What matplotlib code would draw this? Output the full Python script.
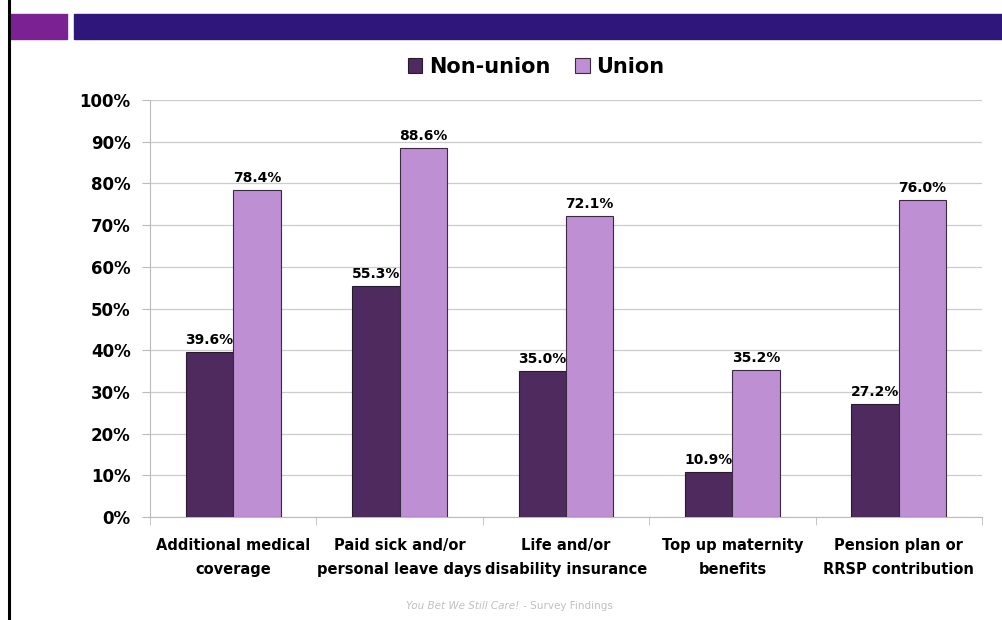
import numpy as np
import matplotlib
matplotlib.use("Agg")
import matplotlib.pyplot as plt
from matplotlib.patches import Rectangle
from matplotlib.lines import Line2D

categories = ["Additional medical\ncoverage", "Paid sick and/or\npersonal leave days",
              "Life and/or\ndisability insurance", "Top up maternity\nbenefits",
              "Pension plan or\nRRSP contribution"]
non_union = [39.6, 55.3, 35.0, 10.9, 27.2]
union = [78.4, 88.6, 72.1, 35.2, 76.0]

C_NON = "#4E2A5E"
C_UNI = "#BF8FD3"

plt.rcParams['font.family'] = ['DejaVu Sans']

fig = plt.figure(figsize=(10.03, 6.2), dpi=100)

# slide decoration
fig.add_artist(Line2D([9 / 1003, 9 / 1003], [0, 1], color="black", lw=2.2,
                      transform=fig.transFigure))
fig.add_artist(Rectangle((10 / 1003, 1 - 39 / 620), 57 / 1003, 25 / 620,
                         color="#7B2194", transform=fig.transFigure))
fig.add_artist(Rectangle((74 / 1003, 1 - 39 / 620), 929 / 1003, 25 / 620,
                         color="#2F167B", transform=fig.transFigure))

ax = fig.add_axes([150 / 1003, 1 - 517 / 620, 832 / 1003, 417 / 620])

x = np.arange(len(categories))
w = 0.285
b1 = ax.bar(x - w / 2, non_union, w, color=C_NON, edgecolor="#2a1a30", lw=0.8,
            label="Non-union", zorder=3)
b2 = ax.bar(x + w / 2, union, w, color=C_UNI, edgecolor="#3a2a40", lw=0.8,
            label="Union", zorder=3)

for bars, vals in ((b1, non_union), (b2, union)):
    for r, v in zip(bars, vals):
        ax.text(r.get_x() + r.get_width() / 2, v + 1.2, f"{v:.1f}%", ha="center",
                va="bottom", fontsize=10, fontweight="bold")

ax.set_xlim(-0.5, len(categories) - 0.5)
ax.set_ylim(0, 100)
ax.set_yticks(np.arange(0, 101, 10))
ax.set_yticklabels([f"{t}%" for t in range(0, 101, 10)], fontsize=12, fontweight="bold")
ax.yaxis.grid(True, color="#cccccc", lw=0.9, zorder=0)
ax.tick_params(axis="y", length=6, color="#bbbbbb", pad=8)

ax.set_xticks(x)
ax.set_xticklabels(categories, fontsize=10.5, fontweight="bold", linespacing=1.8)
ax.set_xticks(np.arange(-0.5, len(categories), 1), minor=True)
ax.tick_params(axis="x", which="major", length=0, pad=15)
ax.tick_params(axis="x", which="minor", length=6, color="#bbbbbb")

for s in ("top", "right"):
    ax.spines[s].set_visible(False)
ax.spines["left"].set_color("#bbbbbb")
ax.spines["bottom"].set_color("#bbbbbb")

fig.legend(handles=[b1, b2], loc="center", bbox_to_anchor=(536 / 1003, 1 - 67 / 620),
           ncol=2, frameon=False, prop={"weight": "bold", "size": 15},
           handlelength=0.7, handleheight=0.7, handletextpad=0.3, columnspacing=1.2)

fig.text(0.518, 1 - 606 / 620, "You Bet We Still Care!", ha="right", va="center",
         fontsize=7.5, style="italic", color="#c0c0c0")
fig.text(0.518, 1 - 606 / 620, " - Survey Findings", ha="left", va="center",
         fontsize=7.5, color="#c0c0c0")

fig.savefig("out.png", dpi=100)
